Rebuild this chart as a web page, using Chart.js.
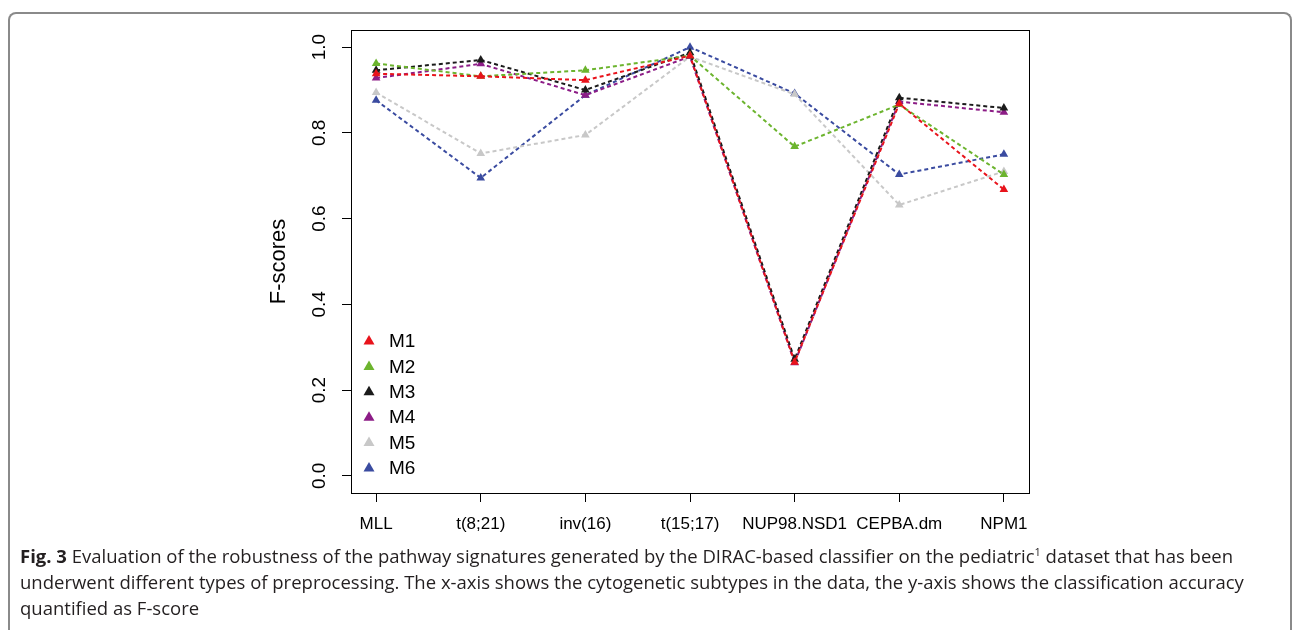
<!DOCTYPE html>
<html>
<head>
<meta charset="utf-8">
<script src="https://cdn.jsdelivr.net/npm/chart.js@4/dist/chart.umd.min.js"></script>
<style>
  body { margin: 0; background: #fff; width: 1293px; height: 630px; overflow: hidden; position: relative; }
  #frame { position: absolute; left: 8px; top: 12px; width: 1280px; height: 640px;
           border: 2px solid #8a8a8a; border-bottom: none; border-radius: 8px 8px 0 0; }
  #wrap { position: absolute; left: 250px; top: 20px; width: 800px; height: 530px; }
  #caption { position: absolute; left: 20px; top: 543px; font-family: "Open Sans", sans-serif;
             font-size: 18.5px; line-height: 26px; color: #231f20; white-space: nowrap; }
  #caption b { font-weight: 700; }
  #caption sup { font-size: 11px; line-height: 0; }
</style>
</head>
<body>
<div id="frame"></div>
<div id="wrap"><canvas id="line_chart"></canvas></div>
<div id="caption">
  <b>Fig. 3</b> Evaluation of the robustness of the pathway signatures generated by the DIRAC-based classifier on the pediatric<sup>1</sup> dataset that has been<br>
  underwent different types of preprocessing. The x-axis shows the cytogenetic subtypes in the data, the y-axis shows the classification accuracy<br>
  quantified as F-score
</div>
<script>
var categories = ["MLL", "t(8;21)", "inv(16)", "t(15;17)", "NUP98.NSD1", "CEPBA.dm", "NPM1"];
var yTicks = [0.0, 0.2, 0.4, 0.6, 0.8, 1.0];

var m1 = [0.938, 0.932, 0.923, 0.980, 0.265, 0.868, 0.668];
var m2 = [0.962, 0.932, 0.946, 0.980, 0.768, 0.866, 0.703];
var m3 = [0.946, 0.970, 0.900, 0.987, 0.272, 0.882, 0.858];
var m4 = [0.928, 0.961, 0.888, 0.978, 0.264, 0.873, 0.848];
var m5 = [0.894, 0.752, 0.795, 0.978, 0.890, 0.632, 0.710];
var m6 = [0.876, 0.695, 0.888, 1.000, 0.892, 0.703, 0.750];

var seriesNames = ["M1", "M2", "M3", "M4", "M5", "M6"];
var seriesValues = [m1, m2, m3, m4, m5, m6];
var seriesColors = ['#e8131b', '#6cb42e', '#1b1b1b', '#8c1c86', '#c8c8c8', '#3a4ba0'];

var family = "'Liberation Sans', Arial, sans-serif";
var xFont = { family: family, size: 17 };
var yFont = { family: family, size: 19 };
var titleFont = { family: family, size: 22 };

// R-style box around the plot region
var boxPlugin = {
    id: 'box',
    afterDraw: function(chart) {
        var a = chart.chartArea, c = chart.ctx;
        c.save();
        c.strokeStyle = '#000';
        c.lineWidth = 1;
        c.strokeRect(a.left + 0.5, a.top + 0.5, a.right - a.left, a.bottom - a.top);
        c.restore();
    }
};

// legend in the bottom left corner, triangles like pch=17
var legendPlugin = {
    id: 'rlegend',
    afterDraw: function(chart) {
        var a = chart.chartArea, c = chart.ctx;
        c.save();
        c.font = '19px ' + family;
        c.textBaseline = 'middle';
        c.textAlign = 'left';
        chart.data.datasets.forEach(function(ds, i) {
            var y = a.bottom - 25 - (chart.data.datasets.length - 1 - i) * 25.4;
            var x = a.left + 18;
            c.fillStyle = ds.pointBackgroundColor;
            c.beginPath();
            c.moveTo(x, y - 6);
            c.lineTo(x + 5.5, y + 3.5);
            c.lineTo(x - 5.5, y + 3.5);
            c.closePath();
            c.fill();
            c.fillStyle = '#000';
            c.fillText(ds.label, a.left + 38, y + 1);
        });
        c.restore();
    }
};

var datasets = seriesNames.map(function(name, i) {
    return {
        label: name,
        data: seriesValues[i].map(function(v, j) { return { x: j + 1, y: v }; }),
        borderColor: seriesColors[i],
        backgroundColor: seriesColors[i],
        pointBackgroundColor: seriesColors[i],
        pointBorderColor: seriesColors[i],
        pointBorderWidth: 0,
        pointStyle: 'triangle',
        pointRadius: 5,
        borderWidth: 2,
        borderDash: [4, 3],
        tension: 0,
        fill: false
    };
});

var ctx = document.getElementById('line_chart').getContext('2d');
new Chart(ctx, {
    type: 'line',
    data: { datasets: datasets },
    plugins: [boxPlugin, legendPlugin],
    options: {
        responsive: true,
        maintainAspectRatio: false,
        animation: false,
        layout: { padding: { left: 0, top: 10, right: 21, bottom: 0 } },
        plugins: { legend: { display: false }, tooltip: { enabled: false } },
        scales: {
            x: {
                type: 'linear',
                min: 0.76,
                max: 7.24,
                afterBuildTicks: function(scale) {
                    scale.ticks = categories.map(function(c, i) { return { value: i + 1 }; });
                },
                afterFit: function(scale) {
                    scale.height = 57;
                    scale.paddingLeft = 0;
                    scale.paddingRight = 0;
                },
                ticks: {
                    autoSkip: false,
                    maxRotation: 0,
                    padding: 12,
                    color: '#000',
                    font: xFont,
                    callback: function(v) { return categories[v - 1]; }
                },
                grid: { drawOnChartArea: false, drawTicks: true, tickLength: 9, color: '#000' },
                border: { display: true, color: '#000' }
            },
            y: {
                type: 'linear',
                min: -0.04,
                max: 1.04,
                afterBuildTicks: function(scale) {
                    scale.ticks = yTicks.map(function(v) { return { value: v }; });
                },
                afterFit: function(scale) {
                    scale.width = 101;
                    scale.paddingTop = 0;
                    scale.paddingBottom = 0;
                },
                title: {
                    display: true,
                    text: 'F-scores',
                    color: '#000',
                    font: titleFont,
                    padding: { top: 16, bottom: 0 }
                },
                ticks: {
                    autoSkip: false,
                    minRotation: 90,
                    maxRotation: 90,
                    crossAlign: 'center',
                    padding: 9,
                    color: '#000',
                    font: yFont,
                    callback: function(v) { return v.toFixed(1); }
                },
                grid: { drawOnChartArea: false, drawTicks: true, tickLength: 9, color: '#000' },
                border: { display: true, color: '#000' }
            }
        }
    }
});
</script>
</body>
</html>
